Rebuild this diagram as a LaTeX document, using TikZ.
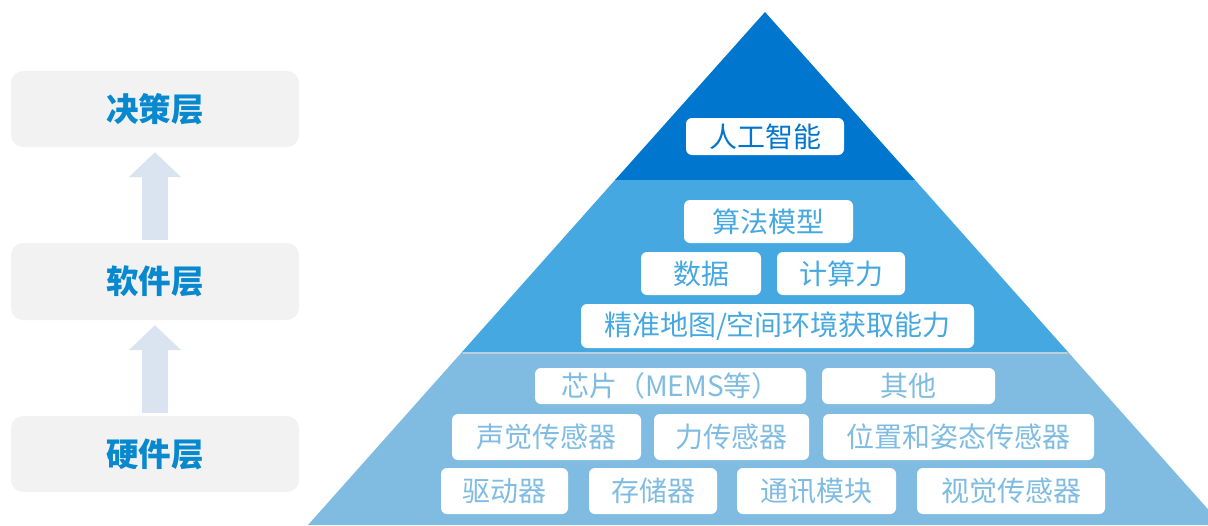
\documentclass[tikz,border=0pt]{standalone}
\usepackage{fontspec}
\setmainfont{Noto Sans CJK SC}
\usetikzlibrary{arrows.meta}
\definecolor{topc}{HTML}{0176CE}
\definecolor{midc}{HTML}{45A8E0}
\definecolor{botc}{HTML}{80BCE2}
\definecolor{lblc}{HTML}{0888CE}
\definecolor{lgray}{HTML}{F2F2F2}
\definecolor{arrc}{HTML}{DAE3F0}
\definecolor{sepc}{HTML}{BCD0DE}
\tikzset{
  lbox/.style={fill=lgray, rounded corners=12pt, minimum width=288pt, inner sep=0pt,
    text=lblc, font=\fontsize{32.5}{38}\selectfont\bfseries},
  pbox/.style={fill=white, rounded corners=6pt, inner sep=0pt,
    font=\fontsize{28}{33}\selectfont},
  upflow/.style={draw=arrc, line width=26pt, -{Triangle[width=51pt,length=25pt]},
    shorten <=3pt, shorten >=5pt},
}
\begin{document}
\begin{tikzpicture}[x=1pt,y=-1pt]
\useasboundingbox (0,0) rectangle (1208,525);
\clip (0,0) rectangle (1208,525);
% left column
\node[lbox, minimum height=76pt] (dec) at (155,109) {决策层};
\node[lbox, minimum height=77pt] (soft) at (155,281.5) {软件层};
\node[lbox, minimum height=76pt] (hard) at (155,454) {硬件层};
\draw[upflow] (soft.north) -- (dec.south);
\draw[upflow] (hard.north) -- (soft.south);
% pyramid bands
\fill[topc] (765,12) -- (915,180) -- (615,180) -- cycle;
\fill[midc] (615,180) -- (915,180) -- (1068,352) -- (462,352) -- cycle;
\fill[botc] (462,352) -- (1068,352) -- (1222,525) -- (308,525) -- cycle;
\draw[sepc, line width=1.5pt] (463,353) -- (1067,353);
% top
\node[pbox, text=topc, minimum width=158pt, minimum height=37pt] (ai) at (765,136.5) {人工智能};
% middle
\node[pbox, text=midc, minimum width=169pt, minimum height=43pt] (alg) at (768.5,221.5) {算法模型};
\node[pbox, text=midc, minimum width=120pt, minimum height=43pt] (data) at (701,273.5) {数据};
\node[pbox, text=midc, minimum width=128pt, minimum height=43pt] (comp) at (841,273.5) {计算力};
\node[pbox, text=midc, minimum width=393pt, minimum height=44pt] (map) at (777.5,326) {精准地图/空间环境获取能力};
% bottom
\node[pbox, text=botc, minimum width=271pt, minimum height=36pt] (chip) at (670.5,386) {芯片（MEMS等）};
\node[pbox, text=botc, minimum width=173pt, minimum height=36pt] (other) at (908.5,386) {其他};
\node[pbox, text=botc, minimum width=189pt, minimum height=46pt] (sound) at (546.5,437) {声觉传感器};
\node[pbox, text=botc, minimum width=155pt, minimum height=46pt] (force) at (731.5,437) {力传感器};
\node[pbox, text=botc, minimum width=271pt, minimum height=46pt] (pos) at (958.5,437) {位置和姿态传感器};
\node[pbox, text=botc, minimum width=127pt, minimum height=46pt] (drive) at (504.5,491) {驱动器};
\node[pbox, text=botc, minimum width=128pt, minimum height=46pt] (store) at (653,491) {存储器};
\node[pbox, text=botc, minimum width=159pt, minimum height=46pt] (comm) at (816.5,491) {通讯模块};
\node[pbox, text=botc, minimum width=188pt, minimum height=46pt] (vis) at (1011,491) {视觉传感器};
\end{tikzpicture}
\end{document}
